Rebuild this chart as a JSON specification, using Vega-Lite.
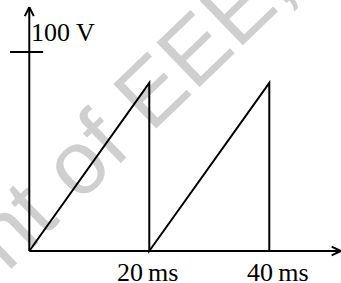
{
  "$schema": "https://vega.github.io/schema/vega-lite/v6.json",
  "width": 341,
  "height": 283,
  "padding": 0,
  "autosize": {"type": "none"},
  "background": "white",
  "config": {"view": {"stroke": null}},
  "datasets": {
    "wave": [
      {"i": 0, "t": 0, "v": 0},
      {"i": 1, "t": 20, "v": 84.5},
      {"i": 2, "t": 20, "v": 0},
      {"i": 3, "t": 40, "v": 84.5},
      {"i": 4, "t": 40, "v": 0}
    ],
    "segs": [
      {"x": 0, "y": 0, "x2": 0, "y2": 122.5},
      {"x": 0, "y": 0, "x2": 51.9, "y2": 0},
      {"x": -3.2, "y": 100, "x2": 2.3, "y2": 100},
      {"x": 0, "y": 122.5, "x2": -0.75, "y2": 118},
      {"x": 0, "y": 122.5, "x2": 0.75, "y2": 118},
      {"x": 51.9, "y": 0, "x2": 50.4, "y2": 2.2},
      {"x": 51.9, "y": 0, "x2": 50.4, "y2": -2.2}
    ],
    "labels": [
      {"x": 0.3, "y": 105.5, "label": "100 V"},
      {"x": 14.6, "y": -15.1, "label": "20\u2009ms"},
      {"x": 36.3, "y": -15.1, "label": "40\u2009ms"}
    ],
    "mark": [
      {"x": -3.7, "y": -11, "label": "nt of EEE,"}
    ]
  },
  "layer": [
    {
      "data": {"name": "mark"},
      "mark": {"type": "text", "align": "left", "baseline": "alphabetic", "angle": -44, "font": "Liberation Sans", "fontSize": 90, "color": "#cfcfcf"},
      "encoding": {
        "x": {"field": "x", "type": "quantitative", "scale": {"domain": [-4.88, 51.95], "nice": false, "zero": false}, "axis": null},
        "y": {"field": "y", "type": "quantitative", "scale": {"domain": [-16.08, 126.1], "nice": false, "zero": false}, "axis": null},
        "text": {"field": "label"}
      }
    },
    {
      "data": {"name": "segs"},
      "mark": {"type": "rule", "color": "black", "strokeWidth": 2},
      "encoding": {
        "x": {"field": "x", "type": "quantitative"},
        "y": {"field": "y", "type": "quantitative"},
        "x2": {"field": "x2"},
        "y2": {"field": "y2"}
      }
    },
    {
      "data": {"name": "wave"},
      "mark": {"type": "line", "color": "black", "strokeWidth": 2},
      "encoding": {
        "x": {"field": "t", "type": "quantitative"},
        "y": {"field": "v", "type": "quantitative"},
        "order": {"field": "i", "type": "quantitative"}
      }
    },
    {
      "data": {"name": "labels"},
      "mark": {"type": "text", "align": "left", "baseline": "alphabetic", "font": "Liberation Serif", "fontSize": 26, "color": "black"},
      "encoding": {
        "x": {"field": "x", "type": "quantitative"},
        "y": {"field": "y", "type": "quantitative"},
        "text": {"field": "label"}
      }
    }
  ]
}
